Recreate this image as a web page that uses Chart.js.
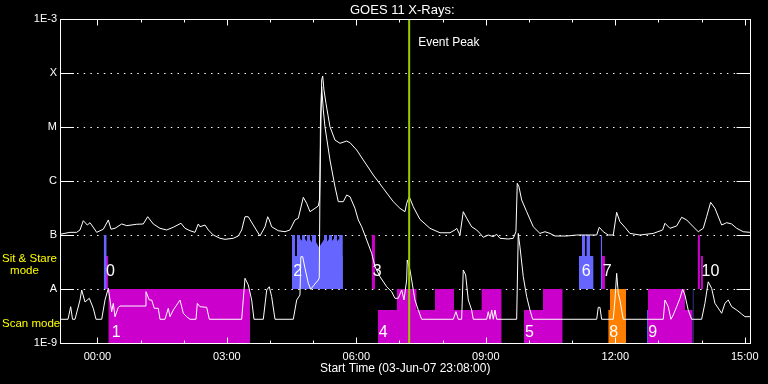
<!DOCTYPE html>
<html><head><meta charset="utf-8">
<script src="https://cdn.jsdelivr.net/npm/chart.js@4"></script>
<style>html,body{margin:0;padding:0;background:#000;}canvas{display:block}</style>
</head><body>
<canvas id="c" width="768" height="384"></canvas>
<script>
const FONT = '"Liberation Sans", Arial, sans-serif';

// ---- data (x = hours relative to 04-Jun-07 00:00; start 03-Jun-07 23:08) ----
const xStart = -52/60;
const xEnd = xStart + 16;
const hourTicks = [0,1,2,3,4,5,6,7,8,9,10,11,12,13,14,15];
const levelValues = [1e-9,1e-8,1e-7,1e-6,1e-5,1e-4,1e-3];
const levelLabels = ['1E-9','A','B','C','M','X','1E-3'];

const longTime = [-0.867,-0.635,-0.480,-0.403,-0.327,-0.234,-0.171,-0.016,0.137,0.253,0.315,0.408,0.563,0.679,0.911,1.063,1.165,1.295,1.450,1.606,1.759,1.937,2.030,2.145,2.261,2.338,2.377,2.493,2.570,2.685,2.841,2.956,3.149,3.265,3.343,3.420,3.496,3.612,3.767,3.883,3.946,3.983,4.038,4.191,4.347,4.462,4.578,4.655,4.771,4.849,4.926,5.042,5.118,5.146,5.160,5.197,5.220,5.250,5.296,5.389,5.505,5.621,5.776,5.853,6.008,6.161,6.393,6.624,6.856,7.011,7.127,7.166,7.226,7.319,7.474,7.706,7.938,8.170,8.285,8.325,8.401,8.478,8.557,8.672,8.788,8.865,8.941,9.057,9.173,9.252,9.328,9.520,9.636,9.698,9.729,9.768,9.831,9.947,10.100,10.255,10.371,10.487,10.603,10.874,11.105,11.569,11.629,11.722,11.837,11.953,12.032,12.108,12.224,12.340,12.572,12.880,13.098,13.151,13.267,13.422,13.538,13.654,13.807,13.923,14.039,14.117,14.210,14.310,14.465,14.581,14.697,14.813,14.965,15.120];
const longFlux = [1.03e-7,1.12e-7,1.12e-7,1.24e-7,1.84e-7,1.53e-7,1.69e-7,1.12e-7,1.28e-7,1.90e-7,1.28e-7,1.33e-7,1.60e-7,1.49e-7,1.58e-7,1.60e-7,2.18e-7,1.60e-7,1.33e-7,1.24e-7,1.39e-7,1.65e-7,1.33e-7,1.20e-7,1.12e-7,1.60e-7,1.42e-7,1.53e-7,1.24e-7,1.00e-7,8.69e-8,8.32e-8,8.69e-8,9.58e-8,1.24e-7,2.18e-7,2.18e-7,1.53e-7,9.58e-8,1.42e-7,2.18e-7,1.90e-7,1.42e-7,1.20e-7,1.15e-7,1.24e-7,1.90e-7,2.04e-7,4.99e-7,3.86e-7,2.70e-7,3.12e-7,3.44e-7,4.45e-7,1.60e-6,7.41e-5,8.80e-5,4.84e-5,2.75e-5,1.01e-5,5.74e-6,4.99e-6,5.50e-6,5.12e-6,3.75e-6,2.45e-6,1.29e-6,7.32e-7,4.14e-7,3.12e-7,2.70e-7,3.86e-7,5.12e-7,3.34e-7,1.95e-7,1.33e-7,1.10e-7,1.10e-7,1.24e-7,1.33e-7,1.00e-7,2.70e-7,2.04e-7,1.42e-7,1.24e-7,1.07e-7,9.06e-8,1.00e-7,9.31e-8,1.03e-7,8.69e-8,8.43e-8,8.69e-8,1.15e-7,9.06e-7,7.85e-7,4.45e-7,2.70e-7,1.42e-7,1.07e-7,1.15e-7,1.07e-7,9.58e-8,9.58e-8,1.00e-7,1.00e-7,1.39e-7,1.15e-7,1.00e-7,1.00e-7,2.63e-7,1.76e-7,1.39e-7,1.07e-7,1.00e-7,1.07e-7,1.24e-7,1.65e-7,1.33e-7,1.47e-7,2.13e-7,1.90e-7,1.42e-7,1.15e-7,1.33e-7,2.18e-7,4.03e-7,3.12e-7,1.53e-7,1.69e-7,1.60e-7,1.33e-7,1.15e-7,1.12e-7];

const shortTime = [-0.867,-0.681,-0.619,-0.577,-0.519,-0.403,-0.364,-0.287,-0.188,-0.095,-0.032,0.100,0.176,0.253,0.331,0.368,0.408,0.484,0.524,1.103,1.126,1.203,1.258,1.318,1.411,1.450,1.566,1.643,1.682,1.759,1.837,1.914,1.990,2.069,2.145,2.285,2.315,2.377,2.532,2.593,3.343,3.420,3.496,3.575,3.628,3.844,3.923,3.983,4.038,4.115,4.539,4.618,4.694,4.713,4.757,4.810,4.887,4.942,5.003,5.118,5.141,5.169,5.197,5.234,5.273,5.389,5.505,5.582,5.698,5.776,5.853,5.968,6.045,6.124,6.240,6.355,6.432,6.548,6.703,6.819,6.895,6.972,7.051,7.104,7.166,7.180,7.242,7.282,7.358,7.435,7.514,8.246,8.308,8.362,8.440,8.478,8.533,8.594,8.672,8.710,9.020,9.057,9.096,9.136,9.173,9.212,9.252,9.715,9.752,9.791,9.868,9.947,10.023,10.086,11.569,11.606,11.645,11.684,11.953,11.992,12.032,12.069,12.108,12.185,13.112,13.151,13.228,13.290,13.343,13.422,13.499,13.561,13.614,13.690,13.769,14.001,14.077,14.154,14.233,14.310,14.465,14.541,14.618,14.697,14.813,14.929,15.005,15.120];
const shortFlux = [2.75e-9,2.75e-9,4.70e-9,2.75e-9,2.75e-9,6.25e-9,9.58e-9,5.74e-9,6.73e-9,4.39e-9,2.75e-9,2.75e-9,6.25e-9,1.03e-8,3.80e-9,5.43e-9,3.07e-9,4.58e-9,4.84e-9,4.84e-9,8.91e-9,6.25e-9,6.25e-9,4.39e-9,4.39e-9,2.75e-9,2.75e-9,4.39e-9,3.07e-9,4.08e-9,5.05e-9,6.25e-9,3.55e-9,3.07e-9,2.75e-9,2.75e-9,5.43e-9,4.70e-9,4.58e-9,2.75e-9,2.75e-9,1.58e-8,1.19e-8,6.25e-9,2.75e-9,2.75e-9,9.58e-9,1.10e-8,7.20e-9,2.75e-9,2.75e-9,6.25e-9,7.74e-9,3.96e-8,3.96e-8,2.42e-8,1.28e-8,9.87e-9,1.14e-8,1.47e-8,1.60e-8,1.35e-5,5.57e-5,2.07e-5,1.01e-5,2.45e-6,7.85e-7,4.14e-7,4.14e-7,5.50e-7,5.12e-7,3.12e-7,1.90e-7,1.42e-7,8.08e-8,4.58e-8,2.59e-8,1.69e-8,1.10e-8,8.91e-9,6.73e-9,6.73e-9,9.58e-9,6.25e-9,1.47e-8,3.44e-8,2.25e-8,1.47e-8,6.25e-9,4.08e-9,2.75e-9,2.75e-9,3.80e-9,2.75e-9,2.75e-9,2.25e-8,1.82e-8,6.25e-9,4.08e-9,2.75e-9,2.75e-9,3.80e-9,2.75e-9,4.08e-9,2.75e-9,4.08e-9,2.75e-9,2.75e-9,1.07e-7,6.07e-8,1.69e-8,7.20e-9,4.08e-9,2.75e-9,2.75e-9,4.58e-9,4.58e-9,2.75e-9,2.75e-9,6.25e-9,1.95e-8,8.32e-9,6.25e-9,2.75e-9,2.75e-9,6.25e-9,4.70e-9,2.75e-9,3.30e-9,4.70e-9,6.73e-9,9.87e-9,7.74e-9,4.08e-9,2.75e-9,2.75e-9,5.43e-9,1.36e-8,1.03e-8,5.43e-9,3.55e-9,5.43e-9,6.25e-9,4.70e-9,4.08e-9,3.44e-9,3.07e-9,3.07e-9];

// mode blocks: [start hour, end hour, top flux]
const stareBlueBlocks = [[0.146,0.215,1e-7],[4.509,5.684,4.1e-8],[4.509,4.578,1e-7],[4.625,4.694,1e-7],[4.741,4.810,1e-7],[4.856,4.926,1e-7],[4.972,5.065,1e-7],[5.250,5.320,1e-7],[5.366,5.435,1e-7],[5.482,5.551,1e-7],[5.609,5.684,1e-7],[11.158,11.490,4.1e-8],[11.228,11.297,1e-7],[11.337,11.413,1e-7],[11.661,11.698,1e-7]];
const starePurpleBlocks = [[0.199,0.253,4.1e-8],[6.355,6.432,1e-7],[11.691,11.761,4.1e-8],[13.909,13.962,1e-7],[13.985,14.032,4.1e-8]];
const scanPurpleBlocks = [[0.253,3.536,1e-8],[6.497,6.938,4.1e-9],[6.938,7.394,1e-8],[7.394,7.822,4.1e-9],[7.822,8.262,1e-8],[8.262,8.904,4.1e-9],[8.904,9.368,1e-8],[9.884,10.325,4.1e-9],[10.325,10.781,1e-8],[12.757,13.614,1e-8],[13.614,13.792,4.1e-9]];
const scanOrangeBlocks = [[11.837,11.877,4.1e-9],[11.877,12.248,1e-8]];
const scanBlueBlocks = [[12.734,12.757,4.1e-9],[13.792,13.815,1e-8]];

const eventNames = ['0','1','2','3','4','5','6','7','8','9','10'];
const eventLabelHours = [0.199,0.331,4.540,6.378,6.517,9.907,11.221,11.707,11.860,12.763,13.999];
const eventRows = ['stare','scan','stare','stare','scan','scan','stare','stare','scan','scan','stare'];
const eventPeakHour = 7.224;

// ---- build ----
function series(t, f){ return t.map((v,i)=>({x:v,y:f[i]})); }
function blockPoints(blocks){
  const pts=[]; let prevEnd=null;
  blocks.forEach(([s,e,top])=>{
    if(prevEnd!==null && Math.abs(s-prevEnd)>1e-6) pts.push({x:prevEnd,y:null});
    pts.push({x:s,y:top},{x:e,y:top});
    prevEnd=e;
  });
  return pts;
}
function blockSet(blocks,color,base){
  return {data:blockPoints(blocks),backgroundColor:color,borderColor:'rgba(0,0,0,0)',borderWidth:1,
    pointRadius:0,fill:{value:base},spanGaps:false,tension:0};
}
const BLUE='#6666ff', PURPLE='#cc00cc', ORANGE='#ff8000';

const decor = {
  id:'decor',
  beforeDatasetsDraw(chart){
    const {ctx, chartArea:a, scales:{y}} = chart;
    ctx.save();
    ctx.strokeStyle='#fff'; ctx.lineWidth=1;
    levelValues.slice(1,-1).forEach(v=>{
      const py=Math.round(y.getPixelForValue(v))+0.5;
      ctx.setLineDash([]);
      ctx.beginPath();
      ctx.moveTo(a.left,py); ctx.lineTo(a.left+14,py);
      ctx.moveTo(a.right-14,py); ctx.lineTo(a.right,py);
      ctx.stroke();
      ctx.setLineDash([1.5,5.2]);
      ctx.beginPath(); ctx.moveTo(a.left+17,py); ctx.lineTo(a.right-15,py); ctx.stroke();
    });
    ctx.restore();
  },
  afterDatasetsDraw(chart){
    const {ctx, chartArea:a, scales:{x,y}} = chart;
    ctx.save();
    ctx.strokeStyle='#fff'; ctx.lineWidth=1; ctx.setLineDash([]);
    const L=Math.round(a.left)+0.5, R=Math.round(a.right)-0.5, T=Math.round(a.top)+0.5, B=Math.round(a.bottom)+0.5;
    ctx.strokeRect(L,T,R-L,B-T);
    ctx.beginPath();
    hourTicks.forEach(h=>{
      const px=Math.round(x.getPixelForValue(h))+0.5;
      const len = h%3===0 ? 6 : 3;
      ctx.moveTo(px,B); ctx.lineTo(px,B-len);
      ctx.moveTo(px,T); ctx.lineTo(px,T+len);
    });
    ctx.stroke();
    // title
    ctx.fillStyle='#fff'; ctx.textBaseline='middle';
    ctx.font='13px '+FONT; ctx.textAlign='center';
    ctx.fillText('GOES 11 X-Rays:', (a.left+a.right)/2-3, 10);
    // event peak
    ctx.font='12px '+FONT; ctx.textAlign='left';
    ctx.fillText('Event Peak', x.getPixelForValue(eventPeakHour)+9, 43);
    // event numbers
    const yA=y.getPixelForValue(1e-8);
    ctx.font='16px '+FONT;
    eventNames.forEach((n,i)=>{
      const py = eventRows[i]==='stare' ? yA-17 : yA+44;
      ctx.fillText(n, x.getPixelForValue(eventLabelHours[i]), py);
    });
    // mode labels
    ctx.fillStyle='#ffff00'; ctx.font='11.5px '+FONT;
    ctx.fillText('Sit & Stare', 2, yA-30);
    ctx.textAlign='center';
    ctx.fillText('mode', 24.5, yA-18);
    ctx.textAlign='left';
    ctx.fillText('Scan mode', 2, yA+35);
    ctx.restore();
  }
};

new Chart(document.getElementById('c'), {
  type:'line',
  data:{datasets:[
    {data:[{x:eventPeakHour,y:1e-9},{x:eventPeakHour,y:1e-3}],borderColor:'#99cc00',borderWidth:2,pointRadius:0,fill:false},
    {data:series(longTime,longFlux),borderColor:'#ffffff',borderWidth:1,pointRadius:0,fill:false,tension:0},
    {data:series(shortTime,shortFlux),borderColor:'#ffffff',borderWidth:1,pointRadius:0,fill:false,tension:0},
    blockSet(stareBlueBlocks,BLUE,1e-8),
    blockSet(starePurpleBlocks,PURPLE,1e-8),
    blockSet(scanBlueBlocks,BLUE,1e-9),
    blockSet(scanOrangeBlocks,ORANGE,1e-9),
    blockSet(scanPurpleBlocks,PURPLE,1e-9)
  ]},
  options:{
    responsive:false, animation:false, devicePixelRatio:1,
    layout:{padding:{top:19,right:17.5,left:0,bottom:0}},
    plugins:{legend:{display:false},tooltip:{enabled:false},title:{display:false}},
    scales:{
      x:{type:'linear',min:xStart,max:xEnd,
        afterFit(s){s.height=41;},
        afterBuildTicks(s){s.ticks=hourTicks.map(v=>({value:v}));},
        grid:{display:false,drawTicks:false},border:{display:false},
        ticks:{color:'#fff',autoSkip:false,maxRotation:0,padding:7,font:{family:FONT,size:11},
          callback:(v)=> (v%3===0 ? String(v).padStart(2,'0')+':00' : '')},
        title:{display:true,text:'Start Time (03-Jun-07 23:08:00)',color:'#fff',font:{family:FONT,size:12},padding:{top:0,bottom:8}}
      },
      y:{type:'logarithmic',min:1e-9,max:1e-3,
        afterFit(s){s.width=60;},
        afterBuildTicks(s){s.ticks=levelValues.map(v=>({value:v}));},
        grid:{display:false,drawTicks:false},border:{display:false},
        ticks:{color:'#fff',padding:3,font:{family:FONT,size:11},autoSkip:false,
          callback:(v,i)=>levelLabels[i]}
      }
    }
  },
  plugins:[decor]
});
</script>
</body></html>
